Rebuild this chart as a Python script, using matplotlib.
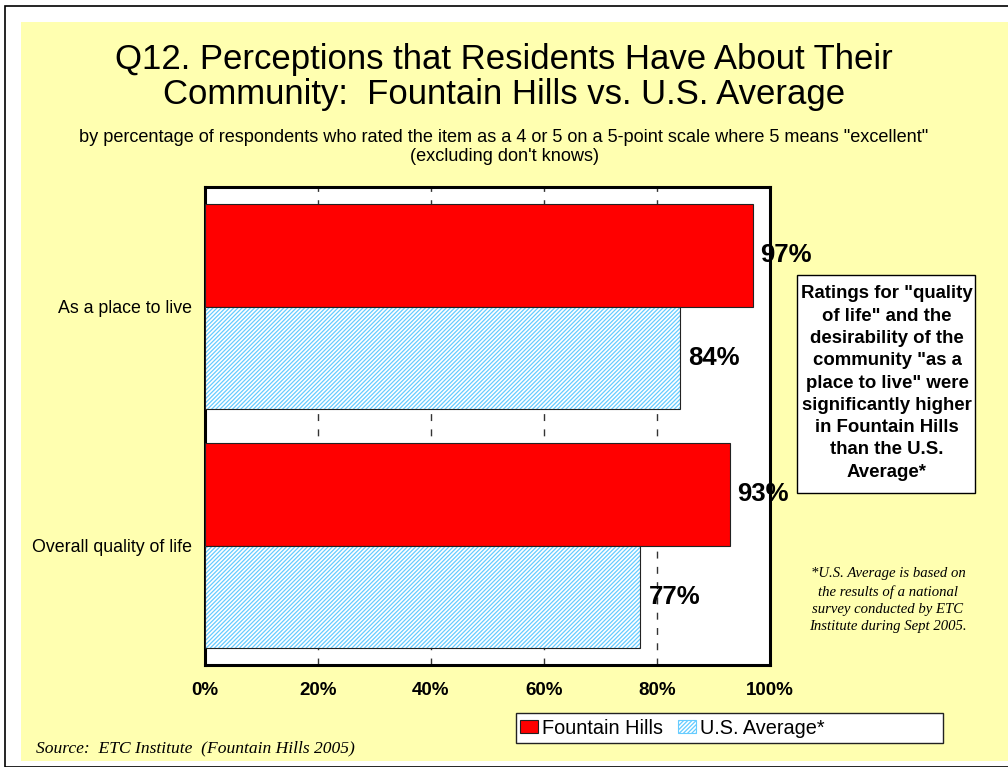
import matplotlib
matplotlib.use("Agg")
import matplotlib.pyplot as plt
from matplotlib.patches import Rectangle, Patch
import numpy as np

# ──────────────────────────────────────────────
# DATA
# ──────────────────────────────────────────────
categories     = ["As a place to live", "Overall quality of life"]
fountain_hills = [97, 93]
us_average     = [84, 77]
x_ticks        = [0, 20, 40, 60, 80, 100]
x_tick_labels  = ["0%", "20%", "40%", "60%", "80%", "100%"]

# colours
C_BG    = "#FFFFB0"
C_RED   = "#FF0000"
C_HATCH = "#66CCFF"

plt.rcParams["font.family"] = ["Liberation Sans", "DejaVu Sans"]
plt.rcParams["hatch.linewidth"] = 0.9

fig = plt.figure(figsize=(10.08, 7.67), dpi=100, facecolor="white")
W, H = 1008, 767

def fx(px):
    return px / W

def fy(py):
    return 1 - py / H

# outer frame + yellow panel (kept below the axes)
fig.patches.append(Rectangle((fx(5), fy(767)), fx(1010), fy(6) - fy(767),
                             transform=fig.transFigure, fill=False,
                             ec="black", lw=1.2, zorder=-2))
fig.patches.append(Rectangle((fx(21), fy(761)), fx(1000), fy(22) - fy(761),
                             transform=fig.transFigure, fc=C_BG, ec="none", zorder=-1))

# ──────────────────────────────────────────────
# AXES
# ──────────────────────────────────────────────
ax = fig.add_axes([fx(205), fy(665), fx(770) - fx(205), fy(187) - fy(665)])
ax.set_zorder(1)
ax.set_facecolor("white")

y = np.arange(len(categories))
h = 0.43

ax.barh(y - h / 2, fountain_hills, height=h, color=C_RED,
        edgecolor="#222222", lw=0.8, zorder=3)
# hatched bars: hatch pass then outline pass
ax.barh(y + h / 2, us_average, height=h, color="white",
        edgecolor=C_HATCH, hatch="////////", lw=0, zorder=3)
ax.barh(y + h / 2, us_average, height=h, fill=False,
        edgecolor="#222222", lw=0.8, zorder=4)

for yi, v in zip(y - h / 2, fountain_hills):
    ax.annotate(f"{v}%", (v, yi), xytext=(5, 0), textcoords="offset points",
                va="center", ha="left", fontsize=18.5, fontweight="bold",
                zorder=6, annotation_clip=False)
for yi, v in zip(y + h / 2, us_average):
    ax.annotate(f"{v}%", (v, yi), xytext=(6, 0), textcoords="offset points",
                va="center", ha="left", fontsize=18.5, fontweight="bold",
                zorder=6, annotation_clip=False)

ax.set_xlim(0, 100)
ax.set_ylim(1.5, -0.5)
ax.set_xticks(x_ticks)
ax.set_xticklabels(x_tick_labels, fontsize=13.5, fontweight="bold")
ax.set_yticks(y)
ax.set_yticklabels(categories, fontsize=12.8)
ax.tick_params(axis="x", length=0, pad=12)
ax.tick_params(axis="y", length=0, pad=9)

for gx in x_ticks[1:-1]:
    ax.axvline(gx, color="#333333", lw=1.0, ls=(0, (5, 6)), zorder=1)

for s in ax.spines.values():
    s.set_linewidth(2.2)
    s.set_color("black")

# ──────────────────────────────────────────────
# TITLES
# ──────────────────────────────────────────────
fig.text(0.5, fy(77), "Q12. Perceptions that Residents Have About Their\n"
         "Community:  Fountain Hills vs. U.S. Average",
         ha="center", va="center", fontsize=25, linespacing=1.1)
fig.text(0.5, fy(147), 'by percentage of respondents who rated the item as a 4 or 5 '
         'on a 5-point scale where 5 means "excellent"\n(excluding don\'t knows)',
         ha="center", va="center", fontsize=13.1, linespacing=1.1)

# callout box
fig.patches.append(Rectangle((fx(797), fy(493)), fx(975) - fx(797), fy(275) - fy(493),
                             transform=fig.transFigure, fc="white", ec="black",
                             lw=1.0, zorder=2))
fig.text(fx(887), fy(383),
         'Ratings for "quality\nof life" and the\ndesirability of the\n'
         'community "as a\nplace to live" were\nsignificantly higher\n'
         'in Fountain Hills\nthan the U.S.\nAverage*',
         ha="center", va="center", fontsize=13.4, fontweight="bold",
         linespacing=1.41, zorder=3)

# footnote
fig.text(fx(888), fy(600),
         "*U.S. Average is based on\nthe results of a national\n"
         "survey conducted by ETC\nInstitute during Sept 2005.",
         ha="center", va="center", fontsize=10.6, style="italic",
         family="Liberation Serif", linespacing=1.4)

# source
fig.text(fx(36), fy(748), "Source:  ETC Institute  (Fountain Hills 2005)",
         ha="left", va="center", fontsize=12.6, style="italic",
         family="Liberation Serif")

# legend
fig.patches.append(Rectangle((fx(516), fy(743)), fx(943) - fx(516), fy(713) - fy(743),
                             transform=fig.transFigure, fc="white", ec="#222222",
                             lw=1.0, zorder=2))
handles = [Patch(fc=C_RED, ec="#222222", lw=0.8, label="Fountain Hills"),
           Patch(fc="white", ec=C_HATCH, hatch="////////", lw=0.8, label="U.S. Average*")]
leg = fig.legend(handles=handles, loc="center left",
                 bbox_to_anchor=(fx(520), fy(728)), ncol=2, frameon=False,
                 fontsize=14.3, handlelength=0.93, handleheight=0.62,
                 handletextpad=0.2, columnspacing=0.72, borderaxespad=0,
                 borderpad=0)
leg.set_zorder(3)

fig.savefig("out.png", dpi=100, facecolor="white")
